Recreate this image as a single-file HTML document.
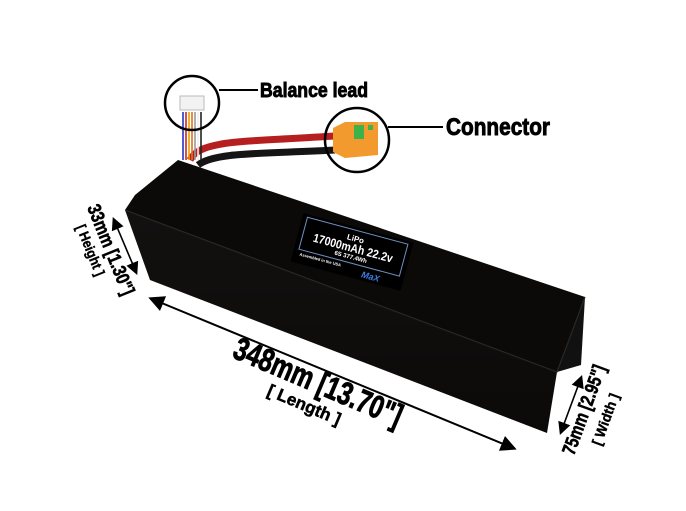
<!DOCTYPE html>
<html><head><meta charset="utf-8"><style>
html,body{margin:0;padding:0;background:#fff;}
svg{display:block;}
text{font-family:"Liberation Sans Narrow","Liberation Sans",sans-serif;font-weight:bold;fill:#000;}
.h{stroke:#000;stroke-width:0.9;}
</style></head><body>
<svg width="686" height="511" viewBox="0 0 686 511" xmlns="http://www.w3.org/2000/svg">
<defs>
<linearGradient id="fr" x1="0" y1="0" x2="0" y2="1"><stop offset="0" stop-color="#131110"/><stop offset="1" stop-color="#0b0a09"/></linearGradient>
<marker id="ah" markerWidth="8" markerHeight="8" refX="6" refY="4" orient="auto-start-reverse"><path d="M0,0 L8,4 L0,8 z" fill="#000"/></marker>
</defs>
<path d="M190,160 C200,140 240,142 335,136" stroke="#b51f1f" stroke-width="7" fill="none"/>
<path d="M198,165 C215,152 260,154 335,150" stroke="#151515" stroke-width="7" fill="none"/>
<g stroke-width="1.6">
<line x1="183" y1="112" x2="183" y2="160" stroke="#2233cc"/>
<line x1="186" y1="112" x2="186" y2="160" stroke="#cc2222"/>
<line x1="189" y1="112" x2="189" y2="160" stroke="#e8a000"/>
<line x1="192" y1="112" x2="192" y2="160" stroke="#e07020"/>
<line x1="195" y1="112" x2="195" y2="160" stroke="#999"/>
<line x1="198" y1="112" x2="198" y2="160" stroke="#eee"/>
<line x1="201" y1="112" x2="201" y2="160" stroke="#222"/>
</g>
<rect x="180" y="96" width="24" height="14" fill="#f2f2f2" stroke="#bbb"/>
<path d="M333,128 L345,122 L378,122 L378,155 L345,158 L333,152 z" fill="#f29a2e"/>
<rect x="354" y="125" width="10" height="14" fill="#3db24a"/>
<rect x="368" y="125" width="5" height="5" fill="#3db24a"/>
<circle cx="192" cy="103" r="27" fill="none" stroke="#000" stroke-width="2.5"/>
<line x1="219" y1="90" x2="258" y2="90" stroke="#000" stroke-width="2"/>
<circle cx="357" cy="140" r="32" fill="none" stroke="#000" stroke-width="2.5"/>
<line x1="388" y1="127" x2="443" y2="127" stroke="#000" stroke-width="2"/>
<text class="h" x="260" y="97" font-size="20" textLength="108" lengthAdjust="spacingAndGlyphs">Balance lead</text>
<text class="h" x="446" y="135" font-size="24" textLength="104" lengthAdjust="spacingAndGlyphs">Connector</text>
<polygon points="178,160 585,297 557,372 125,210 135,195" fill="#0b0a09"/>
<polygon points="125,210 557,372 547,433 150,280" fill="url(#fr)"/>
<polygon points="585,297 581,365 557,372" fill="#111"/>
<polyline points="125,210 557,372 585,297" fill="none" stroke="#2a2825" stroke-width="1.2"/>
<g transform="translate(352,252) rotate(15)">
<rect x="-57" y="-25" width="114" height="50" fill="#000"/>
<rect x="-52" y="-22" width="104" height="33" fill="none" stroke="#6f8fbf" stroke-width="1"/>
<text x="0" y="-11" font-size="8" style="fill:#fff" text-anchor="middle">LiPo</text>
<text x="0" y="0" font-size="12" style="fill:#fff" text-anchor="middle" textLength="82" lengthAdjust="spacingAndGlyphs">17000mAh 22.2v</text>
<text x="0" y="7" font-size="6" style="fill:#fff" text-anchor="middle">6S 377.4Wh</text>
<text x="-50" y="17" font-size="4" style="fill:#fff">Assembled in the USA</text>
<text x="15" y="22" font-size="9" style="fill:#3a7be0" font-style="italic">MaX</text>
</g>
<line x1="152" y1="299" x2="513" y2="448" stroke="#000" stroke-width="2" marker-start="url(#ah)" marker-end="url(#ah)"/>
<line x1="114" y1="220" x2="136" y2="272" stroke="#000" stroke-width="1.6" marker-start="url(#ah)" marker-end="url(#ah)"/>
<line x1="581" y1="378" x2="561" y2="432" stroke="#000" stroke-width="1.6" marker-start="url(#ah)" marker-end="url(#ah)"/>
<text class="h" transform="translate(314,392) rotate(23)" font-size="32" text-anchor="middle" textLength="180" lengthAdjust="spacingAndGlyphs">348mm [13.70"]</text>
<text class="h" transform="translate(302,410) rotate(23)" font-size="17" text-anchor="middle" textLength="78" lengthAdjust="spacingAndGlyphs" style="stroke-width:0.5">[ Length ]</text>
<text class="h" transform="translate(105,252) rotate(68)" font-size="19" text-anchor="middle" textLength="96" lengthAdjust="spacingAndGlyphs" style="stroke-width:0.6">33mm [1.30"]</text>
<text class="h" transform="translate(86,252) rotate(68)" font-size="14" text-anchor="middle" textLength="54" lengthAdjust="spacingAndGlyphs" style="stroke-width:0.4">[ Height ]</text>
<text class="h" transform="translate(590,412) rotate(-70)" font-size="19" text-anchor="middle" textLength="94" lengthAdjust="spacingAndGlyphs" style="stroke-width:0.6">75mm [2.95"]</text>
<text class="h" transform="translate(610,421) rotate(-70)" font-size="14" text-anchor="middle" textLength="54" lengthAdjust="spacingAndGlyphs" style="stroke-width:0.4">[ Width ]</text>
</svg>
</body></html>
